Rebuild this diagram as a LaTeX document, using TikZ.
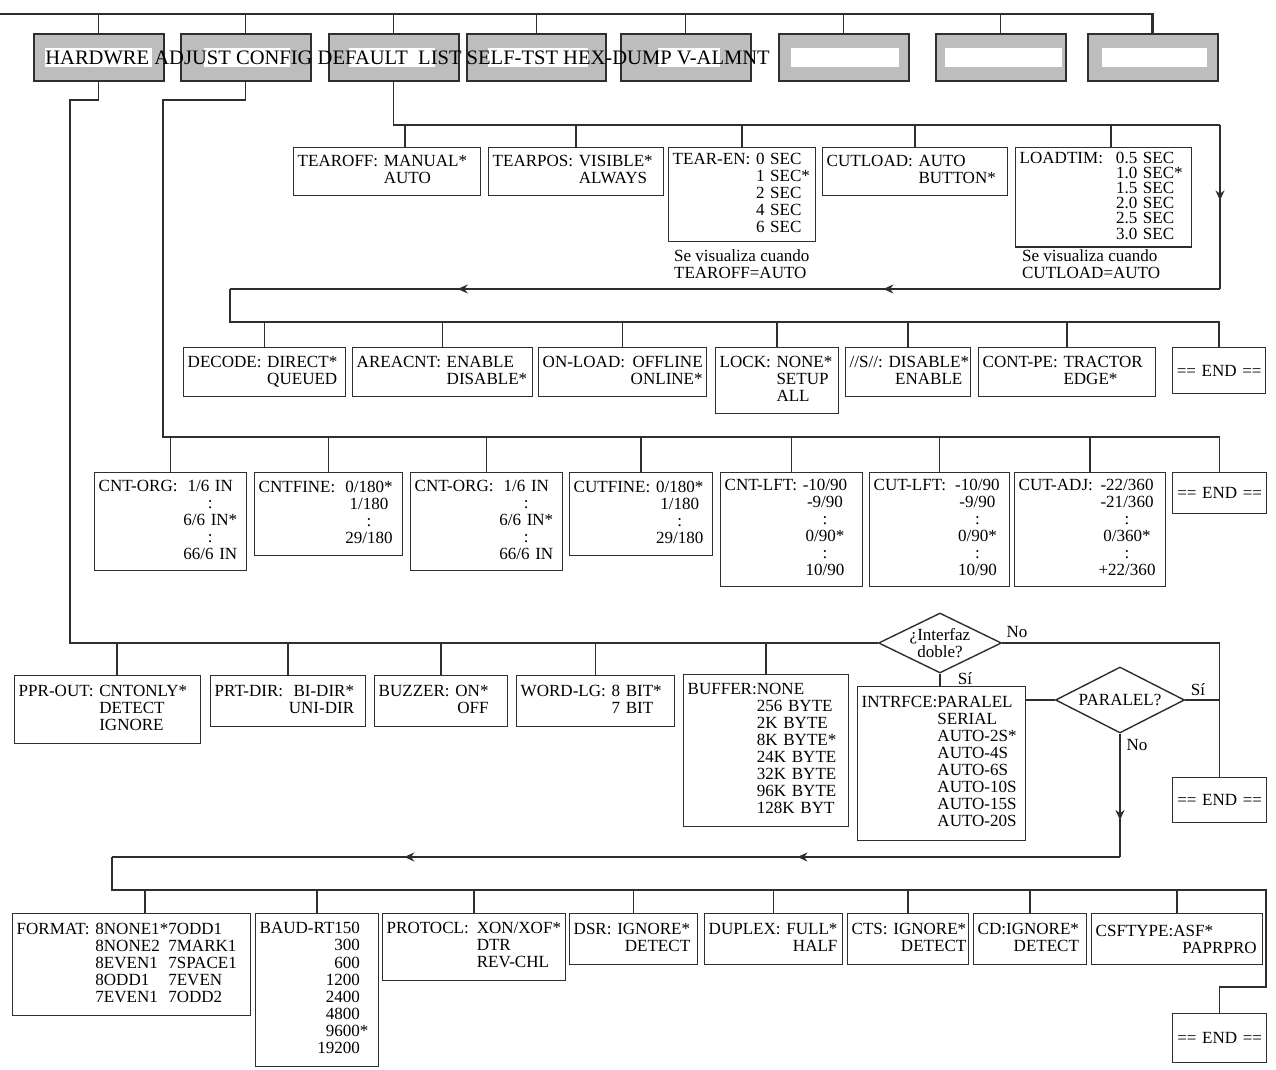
\documentclass[tikz,border=0pt]{standalone}
\usepackage{fontspec}
\setmainfont{Liberation Serif}
\usepackage{xcolor}
\usetikzlibrary{shapes.geometric,arrows.meta,decorations.markings}
\definecolor{menuInk}{HTML}{2E2E2E}
\definecolor{menuGray}{HTML}{BDBDBD}
\newcommand{\optrows}[3][l]{\begin{tabular}{@{}l@{\ }#1@{}}#2 & #3\end{tabular}}
\tikzset{
  opt/.style={draw=menuInk, line width=0.8pt, anchor=north west, inner sep=0.08cm, align=left, font=\fontsize{9.7}{9.7}\selectfont},
  endbox/.style={opt, align=center},
  menubox/.style={draw=menuInk, fill=menuGray, line width=0.9pt, anchor=north west, minimum width=2.6cm, minimum height=0.94cm, inner sep=0pt},
  bus/.style={menuInk, line width=0.8pt},
  decision/.style={diamond, aspect=2, draw=menuInk, line width=0.8pt, inner sep=-1pt, align=center, font=\fontsize{9.7}{9.7}\selectfont},
  answer/.style={font=\fontsize{9.7}{9.7}\selectfont, inner sep=1pt},
  midflow/.style={postaction={decorate}, decoration={markings, mark=at position #1 with {\arrow{Stealth[length=2mm,width=1.8mm]}}}},
  midflowtwo/.style 2 args={postaction={decorate}, decoration={markings, mark=at position #1 with {\arrow{Stealth[length=2mm,width=1.8mm]}}, mark=at position #2 with {\arrow{Stealth[length=2mm,width=1.8mm]}}}},
}

\begin{document}
\begin{tikzpicture}[x=0.02cm, y=-0.02cm]
  \useasboundingbox (0,0) rectangle (1276,1070);

  % menu bar
  \node[menubox] (menu1) at (33,33) {};
  \node[menubox] (menu2) at (180,33) {};
  \node[menubox] (menu3) at (328,33) {};
  \node[menubox, minimum width=2.78cm] (menu4) at (466,33) {};
  \node[menubox] (menu5) at (620,33) {};
  \node[menubox] (menu6) at (778,33) {};
  \node[menubox] (menu7) at (935,33) {};
  \node[menubox] (menu8) at (1087,33) {};
  \fill[white] (45,48) rectangle (152,67);
  \fill[white] (204,48) rectangle (290,67);
  \fill[white] (349,48) rectangle (435,67);
  \fill[white] (488,48) rectangle (588,67);
  \fill[white] (658,48) rectangle (720,67);
  \fill[white] (791,48) rectangle (899,67);
  \fill[white] (945,48) rectangle (1062,67);
  \fill[white] (1102,48) rectangle (1207,67);
  \node[anchor=west, inner sep=0pt, font=\fontsize{11.7}{12}\selectfont] (menuText) at (45,58)
    {HARDWRE ADJUST CONFIG DEFAULT\ \ LIST SELF-TST HEX-DUMP V-ALMNT};

  \coordinate (topL) at (0,14);
  \draw[bus, line width=1.5pt] (topL) -- (topL -| menu8.north) -- (menu8.north);
  \foreach \m in {1,...,7}
    \draw[bus] (topL -| menu\m.north) -- (menu\m.north);

  % DEFAULT branch
  \node[opt, text width=3.58cm, minimum height=0.96cm] (tearoff) at (293,147) {\optrows{TEAROFF:}{MANUAL*\\ & AUTO}};
  \node[opt, text width=3.34cm, minimum height=0.96cm] (tearpos) at (488,147) {\optrows{TEARPOS:}{VISIBLE*\\ & ALWAYS}};
  \node[opt, text width=2.78cm, minimum height=1.88cm] (tearen) at (668,147) {\optrows{TEAR-EN:}{0 SEC\\ & 1 SEC*\\ & 2 SEC\\ & 4 SEC\\ & 6 SEC}};
  \node[opt, text width=3.54cm, minimum height=0.96cm] (cutload) at (822,147) {\optrows{CUTLOAD:}{AUTO\\ & BUTTON*}};
  \node[opt, text width=3.36cm, minimum height=1.92cm] (loadtim) at (1015,147) {\renewcommand{\arraystretch}{0.76}%
    \begin{tabular}{@{}l@{\hspace{0.26cm}}l@{}}LOADTIM: & 0.5 SEC\\ & 1.0 SEC*\\ & 1.5 SEC\\ & 2.0 SEC\\ & 2.5 SEC\\ & 3.0 SEC\end{tabular}};
  \node[answer, anchor=north west, align=left] (tearenNote) at (672,248) {Se visualiza cuando\\TEAROFF=AUTO};
  \node[answer, anchor=north west, align=left] (loadtimNote) at (1020,248) {Se visualiza cuando\\CUTLOAD=AUTO};

  \node[opt, text width=3.08cm, minimum height=0.98cm] (decode) at (183,347) {\optrows[r]{DECODE:}{DIRECT*\\ & QUEUED}};
  \node[opt, text width=3.44cm, minimum height=0.98cm] (areacnt) at (352,347) {\optrows{AREACNT:}{ENABLE\\ & DISABLE*}};
  \node[opt, text width=3.2cm, minimum height=0.98cm] (onload) at (538,347) {\optrows[r]{ON-LOAD:}{OFFLINE\\ & ONLINE*}};
  \node[opt, text width=2.3cm, minimum height=1.32cm] (lock) at (715,347) {\optrows{LOCK:}{NONE*\\ & SETUP\\ & ALL}};
  \node[opt, text width=2.34cm, minimum height=0.98cm] (slash) at (845,347) {\optrows[c]{//S//:}{DISABLE*\\ & ENABLE}};
  \node[opt, text width=3.38cm, minimum height=0.98cm] (contpe) at (978,347) {\optrows{CONT-PE:}{TRACTOR\\ & EDGE*}};
  \node[endbox, text width=1.7cm, minimum height=0.92cm] (end1) at (1172,347) {== END ==};

  \coordinate (defTop) at (1220,125);
  \coordinate (defBot) at (1220,289);
  \coordinate (defLeft) at (230,289);
  \coordinate (rowTwo) at (230,322);
  \coordinate (tearoffTick) at (405,147);
  \coordinate (loadtimTick) at (1111,147);
  \draw[bus] (menu3.south) |- (defTop);
  \draw[bus, midflow=0.46] (defTop) -- (defBot);
  \draw[bus, midflowtwo={0.34}{0.77}] (defBot) -- (defLeft);
  \draw[bus] (defLeft) -- (rowTwo) -| (end1.north);
  \draw[bus] (tearoffTick) -- (tearoffTick |- defTop);
  \draw[bus] (loadtimTick) -- (loadtimTick |- defTop);
  \foreach \n in {tearpos,tearen,cutload}
    \draw[bus] (\n.north) -- (\n.north |- defTop);
  \foreach \n in {decode,areacnt,onload,lock,slash,contpe}
    \draw[bus] (\n.north) -- (\n.north |- rowTwo);

  % ADJUST branch
  \node[opt, text width=2.88cm, minimum height=1.96cm] (cntorgA) at (94,472) {\optrows[c]{CNT-ORG:}{1/6 IN\\ & :\\ & 6/6 IN*\\ & :\\ & 66/6 IN}};
  \node[opt, text width=2.8cm, minimum height=1.66cm] (cntfine) at (254,472) {\optrows[c]{CNTFINE:\kern0.25em}{0/180*\\ & 1/180\\ & :\\ & 29/180}};
  \node[opt, text width=2.88cm, minimum height=1.96cm] (cntorgB) at (410,472) {\optrows[c]{CNT-ORG:}{1/6 IN\\ & :\\ & 6/6 IN*\\ & :\\ & 66/6 IN}};
  \node[opt, text width=2.7cm, minimum height=1.66cm] (cutfine) at (569,472) {\optrows[c]{CUTFINE:}{0/180*\\ & 1/180\\ & :\\ & 29/180}};
  \node[opt, text width=2.68cm, minimum height=2.28cm] (cntlft) at (720,472) {\optrows[c]{CNT-LFT:}{-10/90\\ & -9/90\\ & :\\ & 0/90*\\ & :\\ & 10/90}};
  \node[opt, text width=2.64cm, minimum height=2.28cm] (cutlft) at (869,472) {\optrows[c]{CUT-LFT:\kern0.2em}{-10/90\\ & -9/90\\ & :\\ & 0/90*\\ & :\\ & 10/90}};
  \node[opt, text width=2.86cm, minimum height=2.28cm] (cutadj) at (1014,472) {\optrows[c]{CUT-ADJ:}{-22/360\\ & -21/360\\ & :\\ & 0/360*\\ & :\\ & +22/360}};
  \node[endbox, text width=1.72cm, minimum height=0.82cm] (end2) at (1172,472) {== END ==};

  \coordinate (adjBend) at (163,100);
  \coordinate (adjBus) at (163,437);
  \draw[bus] (menu2.south) |- (adjBend) -- (adjBus) -| (end2.north);
  \foreach \n in {cntorgA,cntfine,cntorgB,cutfine,cntlft,cutlft,cutadj}
    \draw[bus] (\n.north) -- (\n.north |- adjBus);

  % HARDWRE branch
  \node[opt, text width=3.56cm, minimum height=1.36cm] (pprout) at (14,675) {\optrows{PPR-OUT:}{CNTONLY*\\ & DETECT\\ & IGNORE}};
  \node[opt, text width=2.94cm, minimum height=1.02cm] (prtdir) at (210,675) {\optrows[r]{PRT-DIR:}{BI-DIR*\\ & UNI-DIR}};
  \node[opt, text width=2.5cm, minimum height=1.02cm] (buzzer) at (374,675) {\optrows[r]{BUZZER:}{ON*\\ & OFF}};
  \node[opt, text width=3.0cm, minimum height=1.02cm] (wordlg) at (516,675) {\optrows{WORD-LG:}{8 BIT*\\ & 7 BIT}};
  \node[opt, text width=3.14cm, minimum height=3.04cm] (buffer) at (683,674) {\begin{tabular}{@{}l@{}l@{}}BUFFER: & NONE\\ & 256 BYTE\\ & 2K BYTE\\ & 8K BYTE*\\ & 24K BYTE\\ & 32K BYTE\\ & 96K BYTE\\ & 128K BYT\end{tabular}};
  \node[decision, minimum width=2.46cm, minimum height=1.2cm] (dInterfaz) at (940,643) {¿Interfaz\\doble?};
  \node[opt, text width=3.2cm, minimum height=3.08cm] (intrfce) at (857,686) {\begin{tabular}{@{}l@{}l@{}}INTRFCE: & PARALEL\\ & SERIAL\\ & AUTO-2S*\\ & AUTO-4S\\ & AUTO-6S\\ & AUTO-10S\\ & AUTO-15S\\ & AUTO-20S\end{tabular}};
  \node[decision, minimum width=2.58cm, minimum height=1.32cm] (dParalel) at (1120,700) {PARALEL?};
  \node[endbox, text width=1.72cm, minimum height=0.9cm] (end3) at (1172,777) {== END ==};
  \node[answer] (noInterfaz) at (1017,632) {No};
  \node[answer] (siInterfaz) at (965,679) {Sí};
  \node[answer] (siParalel) at (1198,690) {Sí};
  \node[answer] (noParalel) at (1137,745) {No};

  \coordinate (hwBend) at (70,100);
  \coordinate (pproutTick) at (117,675);
  \draw[bus] (menu1.south) |- (hwBend) |- (dInterfaz.west);
  \draw[bus] (pproutTick) -- (pproutTick |- dInterfaz.west);
  \foreach \n in {prtdir,buzzer,wordlg,buffer}
    \draw[bus] (\n.north) -- (\n.north |- dInterfaz.west);
  \draw[bus] (dInterfaz.east) -| (end3.north);
  \draw[bus] (dInterfaz.south) -- (dInterfaz.south |- intrfce.north);
  \draw[bus] (intrfce.east |- dParalel.west) -- (dParalel.west);
  \draw[bus] (dParalel.east) -- (dParalel.east -| end3.north);

  % serial settings
  \node[opt, text width=4.6cm, minimum height=2.04cm] (format) at (12,913) {\begin{tabular}{@{}l@{\ }l@{}l@{}}FORMAT: & 8NONE1* & 7ODD1\\ & 8NONE2 & 7MARK1\\ & 8EVEN1 & 7SPACE1\\ & 8ODD1 & 7EVEN\\ & 7EVEN1 & 7ODD2\end{tabular}};
  \node[opt, text width=2.3cm, minimum height=3.06cm] (baudrt) at (255,913) {\begin{tabular}{@{}r@{}}BAUD-RT150\\ 300\\ 600\\ 1200\\ 2400\\ 4800\\ 9600\rlap{*}\\ 19200\end{tabular}};
  \node[opt, text width=3.5cm, minimum height=1.34cm] (protocl) at (382,913) {\begin{tabular}{@{}l@{\hspace{0.16cm}}l@{}}PROTOCL: & XON/XOF*\\ & DTR\\ & REV-CHL\end{tabular}};
  \node[opt, text width=2.4cm, minimum height=1.02cm] (dsr) at (569,913) {\optrows[r]{DSR:}{IGNORE*\\ & DETECT}};
  \node[opt, text width=2.6cm, minimum height=1.02cm] (duplex) at (704,913) {\optrows[r]{DUPLEX:}{FULL*\\ & HALF}};
  \node[opt, text width=2.26cm, minimum height=1.02cm] (cts) at (847,913) {\optrows[r]{CTS:}{IGNORE*\\ & DETECT}};
  \node[opt, text width=2.1cm, minimum height=1.02cm] (cd) at (973,913) {\begin{tabular}{@{}l@{}r@{}}CD: & IGNORE*\\ & DETECT\end{tabular}};
  \node[opt, text width=3.26cm, minimum height=1.02cm] (csftype) at (1091,913) {CSFTYPE:ASF*\\\makebox[3.22cm][r]{PAPRPRO}};
  \node[endbox, text width=1.72cm, minimum height=0.98cm] (end4) at (1172,1013) {== END ==};

  \coordinate (serRight) at (1120,857);
  \coordinate (serLeft) at (112,857);
  \coordinate (serBus) at (112,890);
  \coordinate (serDrop) at (1266,987);
  \coordinate (formatTick) at (145,913);
  \draw[bus, midflow=0.7] (dParalel.south) -- (serRight);
  \draw[bus, midflowtwo={0.32}{0.71}] (serRight) -- (serLeft);
  \draw[bus] (serLeft) -- (serBus) -| (serDrop) -| (end4.north);
  \draw[bus] (formatTick) -- (formatTick |- serBus);
  \foreach \n in {baudrt,protocl,dsr,duplex,cts,cd,csftype}
    \draw[bus] (\n.north) -- (\n.north |- serBus);
\end{tikzpicture}
\end{document}
